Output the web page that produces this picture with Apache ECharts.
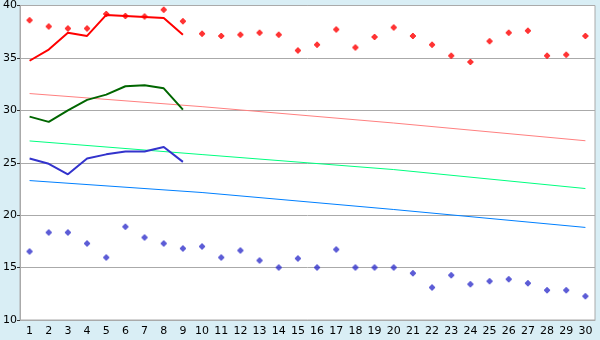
<!DOCTYPE html>
<html><head><meta charset="utf-8">
<script src="https://cdn.jsdelivr.net/npm/echarts@6/dist/echarts.min.js"></script>
<style>html,body{margin:0;padding:0;background:#d9eef5;}#c{width:600px;height:340px;}</style>
</head><body><div id="c"></div>
<script>
var days = ['1','2','3','4','5','6','7','8','9','10','11','12','13','14','15','16','17','18','19','20','21','22','23','24','25','26','27','28','29','30'];
var yTicks = [10, 40, 5];
var highPoints = [38.6,38.0,37.8,37.8,39.2,39.0,38.95,39.6,38.5,37.3,37.1,37.2,37.4,37.2,35.7,36.25,37.7,36.0,37.0,37.9,37.1,36.25,35.2,34.6,36.6,37.4,37.6,35.2,35.3,37.1];
var lowPoints = [16.54,18.35,18.35,17.3,15.97,18.9,17.88,17.3,16.83,17.0,15.97,16.63,15.68,15.0,15.87,15.0,16.73,15.0,15.0,15.0,14.45,13.1,14.26,13.4,13.69,13.88,13.5,12.83,12.83,12.26];
var redLine = [34.73,35.8,37.4,37.1,39.1,39.0,38.9,38.8,37.2];
var greenLine = [29.4,28.9,30.0,31.0,31.5,32.3,32.4,32.1,30.06];
var blueLine = [25.4,24.9,23.9,25.4,25.8,26.07,26.07,26.5,25.08];
// trend lines read at days 1, 10, 20, 30
var pinkTrend = {1:31.6, 10:30.35, 20:28.79, 30:27.1};
var greenTrend = {1:27.08, 10:25.78, 20:24.35, 30:22.54};
var blueTrend = {1:23.3, 10:22.16, 20:20.54, 30:18.83};

function sparse(obj){ return days.map(function(d){ var k=+d; return obj[k]!==undefined?obj[k]:null; }); }
var plus = 'path://M2,0H4V1H5V2H6V4H5V5H4V6H2V5H1V4H0V2H1V1H2Z';
var chart = echarts.init(document.getElementById('c'), null, {renderer:'canvas'});
function line(data, color, w){ return {type:'line', data:data, symbol:'none', connectNulls:true, lineStyle:{color:color,width:w}, itemStyle:{color:color}, animation:false, z:3}; }
function pts(data, color){ return {type:'scatter', data:data, symbol:plus, symbolSize:6, itemStyle:{color:color}, animation:false, z:4}; }
chart.setOption({
  backgroundColor:'#d9eef5',
  animation:false,
  grid:{left:20, top:5, right:5, bottom:20, show:true, backgroundColor:'#ffffff', borderColor:'#aaaaaa', borderWidth:1},
  xAxis:{type:'category', data:days, boundaryGap:true,
    axisLine:{lineStyle:{color:'#aaaaaa'}},
    axisTick:{alignWithLabel:true, length:4, lineStyle:{color:'#333'}},
    axisLabel:{color:'#000', fontFamily:'DejaVu Sans', fontSize:11, margin:6, interval:0},
    splitLine:{show:false}},
  yAxis:{type:'value', min:yTicks[0], max:yTicks[1], interval:yTicks[2],
    axisLine:{show:true, lineStyle:{color:'#aaaaaa'}},
    axisTick:{show:true, length:3, lineStyle:{color:'#333'}},
    axisLabel:{color:'#000', fontFamily:'DejaVu Sans', fontSize:11, margin:3},
    splitLine:{lineStyle:{color:'#aaaaaa'}}},
  series:[
    line(sparse(pinkTrend), '#ff8080', 1),
    line(sparse(greenTrend), '#00ff80', 1),
    line(sparse(blueTrend), '#0080ff', 1),
    line(redLine, '#ff0000', 2),
    line(greenLine, '#006600', 2),
    line(blueLine, '#3333cc', 2),
    pts(highPoints, '#ff0000'),
    pts(lowPoints, '#3333cc')
  ]
});
</script></body></html>
